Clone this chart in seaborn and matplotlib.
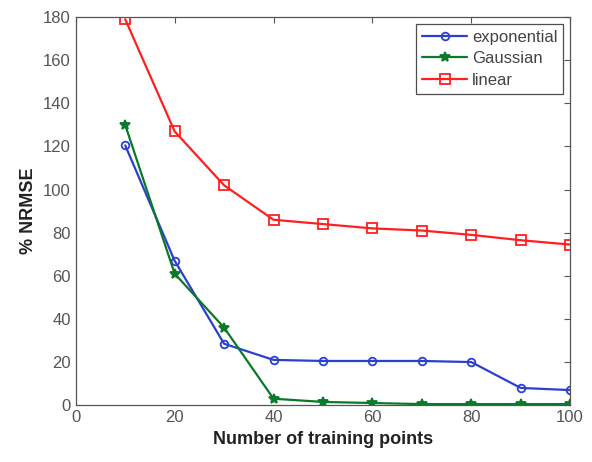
import numpy as np
import pandas as pd
import seaborn as sns
import matplotlib
matplotlib.use("Agg")
import matplotlib.pyplot as plt

# Data
n_points = [10, 20, 30, 40, 50, 60, 70, 80, 90, 100]
exponential = [120.5, 67, 28.5, 21, 20.5, 20.5, 20.5, 20, 8, 7]
gaussian = [130, 61, 36, 3, 1.5, 1, 0.5, 0.5, 0.5, 0.5]
linear = [179, 127, 102, 86, 84, 82, 81, 79, 76.5, 74.5]

series_names = ["exponential", "Gaussian", "linear"]
df = pd.DataFrame({
    "n": n_points * 3,
    "nrmse": exponential + gaussian + linear,
    "kernel": np.repeat(series_names, len(n_points)),
})

sns.set_theme(style="white")
plt.rcParams["font.family"] = ["Liberation Sans", "DejaVu Sans"]

colors = {"exponential": "#2b3fd0", "Gaussian": "#0a7a2a", "linear": "#ff1f1f"}
markers = {"exponential": "o", "Gaussian": "*", "linear": "s"}
msizes = {"exponential": 5.5, "Gaussian": 7.5, "linear": 6.5}

fig = plt.figure(figsize=(5.92, 4.62), dpi=100)
ax = fig.add_axes([0.128, 0.123, 0.835, 0.840])

sns.lineplot(data=df, x="n", y="nrmse", hue="kernel", hue_order=series_names,
             palette=colors, linewidth=1.6, legend=False, ax=ax)

# MATLAB-style markers: open circle/square, filled star
for line, name in zip(ax.lines, series_names):
    c = colors[name]
    line.set_marker(markers[name])
    line.set_markersize(msizes[name])
    line.set_markeredgecolor(c)
    line.set_markeredgewidth(1.3)
    line.set_markerfacecolor(c if name == "Gaussian" else "none")
    line.set_label(name)

ax.set_xlim(0, 100)
ax.set_ylim(0, 180)
ax.set_xticks(np.arange(0, 101, 20))
ax.set_yticks(np.arange(0, 181, 20))
ax.tick_params(direction="in", top=True, right=True, length=4, width=0.8,
               colors="#555555", labelsize=12, labelcolor="#555555")
for sp in ax.spines.values():
    sp.set_color("#555555")
    sp.set_linewidth(0.9)

ax.set_xlabel("Number of training points", fontsize=13, fontweight="bold", color="#222222")
ax.set_ylabel("% NRMSE", fontsize=13, fontweight="bold", color="#222222")

leg = ax.legend(loc="upper right", fontsize=12, frameon=True, fancybox=False,
                edgecolor="#222222", borderaxespad=0.4, handlelength=2.7,
                labelspacing=0.4, borderpad=0.35, handletextpad=0.3)
leg.get_frame().set_linewidth(0.9)
for txt in leg.get_texts():
    txt.set_color("#444444")

fig.savefig("out.png", dpi=100)
plt.close(fig)
